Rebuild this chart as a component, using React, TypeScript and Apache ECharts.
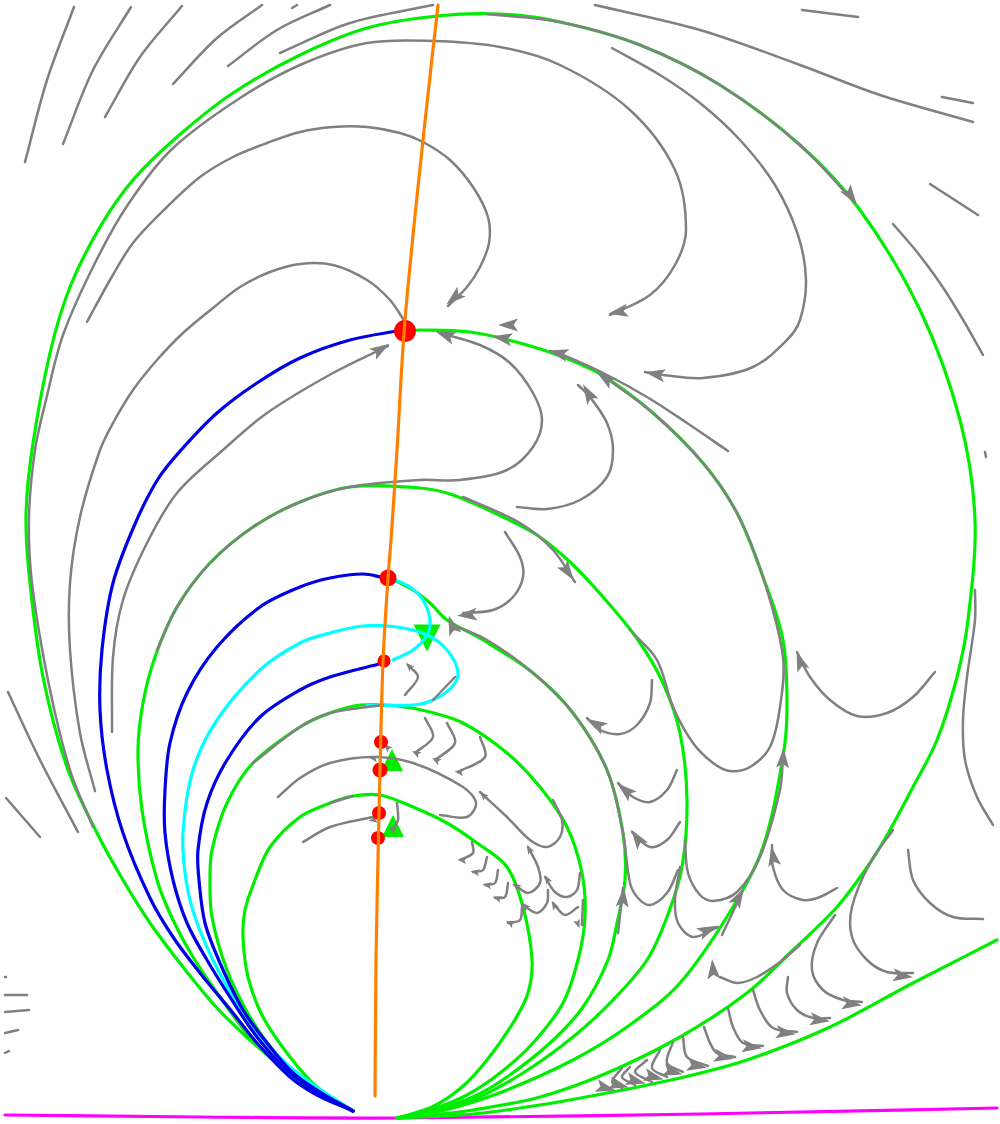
import React, { useEffect, useRef } from "react";
import * as echarts from "echarts";

type P = number[];
const orange: P[] = [[438,5],[423,140],[405,320],[397,450],[391,540],[388,578],[383,662],[380,770],[378,860],[376,960],[375,1096]];
const magenta: P[] = [[5,1115],[200,1117],[400,1118],[700,1114],[997,1108]];

const greenOuter: P[] = [[353,1111],[317,1093],[283,1068],[250,1040],[217,1008],[183,967],[150,923],[123,880],[97,833],[67,767],[43,677],[30,583],[26,517],[32,450],[50,353],[70,287],[100,227],[133,180],[177,137],[233,93],[300,55],[367,28],[437,16],[500,14],[560,22],[640,45],[720,85],[800,145],[860,210],[920,310],[960,420],[975,520],[968,620],[957,677],[937,740],[913,787],[890,830],[870,863],[837,907],[793,950],[747,993],[680,1037],[607,1073],[540,1097],[473,1110],[430,1115],[397,1118]];
const greenUpper: P[] = [[405,331],[420,330],[470,332],[520,343],[563,357],[602,375],[653,413],[703,463],[737,513],[763,577],[783,640],[787,707],[783,757],[763,847],[733,907],[680,983],[627,1027],[573,1060],[507,1090],[460,1106],[425,1114],[397,1118]];
const greenLobe: P[] = [[353,1111],[317,1093],[283,1068],[250,1037],[220,997],[193,957],[173,920],[157,880],[142,810],[138,750],[143,703],[155,657],[177,607],[210,563],[253,527],[300,502],[350,487],[420,488],[453,495],[503,517],[537,535],[570,562],[603,597],[638,640],[663,683],[680,733],[687,800],[682,867],[667,917],[647,960],[613,1000],[573,1037],[523,1073],[473,1100],[435,1111],[397,1118]];
const greenMiddle: P[] = [[390,578],[413,590],[430,603],[447,620],[483,640],[533,673],[573,713],[607,770],[623,833],[625,880],[617,923],[608,960],[583,1007],[550,1043],[507,1077],[473,1097],[435,1110],[397,1118]];
const greenInner: P[] = [[353,1111],[300,1077],[273,1050],[250,1017],[227,970],[212,917],[210,880],[212,850],[227,803],[253,763],[300,727],[330,713],[360,705],[397,706],[430,712],[463,723],[507,753],[540,787],[567,827],[582,873],[585,917],[578,960],[563,1003],[533,1043],[500,1073],[467,1095],[433,1109],[397,1118]];
const greenCore: P[] = [[353,1111],[317,1087],[290,1057],[263,1017],[248,977],[243,937],[245,910],[255,880],[270,847],[300,817],[330,803],[353,796],[380,795],[413,807],[447,823],[477,843],[507,867],[523,907],[532,960],[528,993],[513,1023],[487,1060],[462,1087],[432,1107],[397,1118]];
const greenBottom: P[] = [[397,1118],[473,1114],[540,1105],[607,1093],[680,1078],[747,1060],[830,1027],[913,983],[997,940]];
const green = [greenOuter, greenUpper, greenLobe, greenMiddle, greenInner, greenCore, greenBottom];

const cyan: P[][] = [
  [[390,578],[410,587],[423,600],[430,620],[427,635],[413,650],[393,660]],
  [[353,1111],[300,1075],[263,1040],[237,1003],[213,960],[195,917],[186,880],[183,833],[193,770],[217,720],[260,670],[300,643],[330,633],[363,626],[397,627],[427,635],[447,650],[458,672],[452,687],[433,700],[413,705],[367,705]],
];
const blue: P[][] = [
  [[403,330],[350,340],[300,358],[257,383],[217,413],[182,449],[158,479],[135,524],[113,583],[102,650],[100,710],[107,770],[123,833],[150,898],[173,937],[200,973],[233,1013],[257,1043],[290,1077],[317,1095],[353,1111]],
  [[385,578],[363,574],[330,578],[300,587],[260,607],[217,647],[187,693],[170,743],[165,790],[165,833],[173,880],[187,923],[207,960],[230,997],[257,1037],[287,1070],[317,1092],[353,1111]],
  [[383,663],[330,677],[300,690],[260,717],[227,760],[207,803],[198,850],[199,880],[205,923],[220,963],[243,1010],[267,1043],[293,1073],[320,1092],[353,1111]],
];
const grayShort: P[][] = [
  [[74,7],[47,80],[25,162]],[[131,7],[93,70],[63,144]],[[182,6],[140,57],[105,117]],[[262,5],[217,38],[173,84]],
  [[297,5],[292,8]],[[330,5],[277,30],[228,66]],[[433,5],[350,23],[280,53]],
  [[595,5],[700,30],[800,65],[880,95],[973,122]],[[802,10],[858,17]],[[942,97],[973,103]],[[930,184],[978,215]],
  [[893,224],[917,252],[940,283],[962,318],[983,355]],[[985,452],[986,457]],[[975,590],[975,620],[967,677],[963,720],[965,760],[977,797],[993,825]],
  [[8,692],[40,760],[78,832]],[[6,798],[40,837]],[[5,995],[27,995]],[[5,1012],[29,1010]],[[5,1033],[18,1030]],[[5,1053],[9,1051]],[[5,977],[6,977]],
];
const grayLong: P[][] = [
  [[95,791],[80,733],[70,650],[70,583],[80,517],[100,450],[113,423],[133,390],[157,360],[183,333],[213,308],[240,287],[270,272],[300,264],[333,265],[367,280],[390,300],[405,322]],
  [[87,322],[110,280],[133,243],[167,207],[200,177],[233,157],[267,143],[300,132],[333,127],[367,127],[400,133],[423,142],[450,160],[473,187],[488,217],[489,243],[480,267],[467,287],[448,306]],
  [[93,827],[70,770],[49,685],[32,583],[29,517],[35,450],[46,400],[63,335],[94,265],[127,206],[171,150],[237,100],[300,65],[367,43],[433,41],[500,47],[560,65],[630,110],[675,170],[686,230],[675,265],[650,295],[610,315]],
  [[487,14],[560,22],[640,45],[720,85],[800,145],[855,203]],
  [[612,48],[660,75],[700,103],[740,140],[775,185],[798,235],[806,280],[800,320],[787,340],[753,367],[703,378],[663,375],[645,372]],
  [[112,732],[113,657],[123,600],[147,543],[177,493],[223,450],[267,413],[333,373],[388,346]],
  [[728,451],[687,423],[647,397],[607,375],[563,355],[550,351]],
  [[157,650],[177,607],[210,563],[253,527],[300,502],[350,487],[420,480],[460,480],[507,470],[533,447],[542,420],[533,393],[510,363],[480,345],[440,333]],
  [[517,507],[547,509],[580,500],[607,477],[613,450],[607,423],[590,397],[578,385]],
  [[505,532],[520,557],[523,577],[513,597],[493,610],[463,613]],
  [[463,497],[520,523],[553,550],[575,582]],
  [[630,630],[657,660],[673,707],[693,743],[713,763],[730,771],[750,767],[770,747],[780,707],[783,657],[763,577],[737,513],[703,463],[653,413],[606,378]],
  [[450,624],[487,640],[533,673],[573,713],[607,770],[623,833],[630,883],[638,898],[650,905],[667,893],[678,870]],
  [[652,680],[650,703],[637,725],[620,734],[600,730],[587,718]],
  [[677,770],[667,790],[650,802],[633,797],[618,783]],
  [[680,822],[667,840],[650,847],[632,832]],
  [[685,840],[688,873],[700,895],[713,901],[737,892],[760,857],[780,790],[783,757]],
  [[680,867],[675,900],[678,923],[693,937],[718,927]],
  [[772,845],[773,867],[783,890],[803,900],[820,897],[837,888]],
  [[618,933],[623,888]],[[722,935],[740,897]],
  [[935,672],[913,697],[887,713],[857,716],[830,700],[810,677],[797,652]],
  [[908,850],[913,880],[930,903],[953,917],[983,919]],
  [[893,830],[870,863],[852,907],[852,937],[867,960],[887,972],[913,973]],
  [[835,915],[817,943],[812,970],[823,990],[843,1000],[862,1002]],
  [[788,977],[787,993],[797,1010],[813,1018],[830,1018]],
  [[753,990],[760,1010],[773,1028],[797,1032]],
  [[728,1008],[733,1027],[743,1043],[763,1046]],
  [[704,1027],[710,1043],[717,1053],[735,1057]],
  [[683,1037],[687,1057],[708,1066]],
  [[673,1042],[667,1063],[683,1072]],
  [[660,1050],[652,1068],[667,1077]],
  [[647,1060],[635,1072],[652,1082]],
  [[630,1067],[622,1077],[635,1085]],
  [[622,1068],[612,1082],[622,1088]],
  [[720,977],[737,983],[757,977],[780,962],[800,945]],
  [[480,792],[507,817],[530,840],[547,847],[560,837],[562,820],[553,800]],
  [[528,847],[538,867],[540,883],[528,893],[515,885]],
  [[545,877],[555,892],[567,897],[577,890],[580,873]],
  [[548,890],[547,903],[537,913],[523,905]],
  [[553,903],[565,915],[578,907]],
  [[583,900],[582,925]],
  [[472,842],[473,853],[460,860]],[[487,857],[483,870],[473,872]],[[498,870],[495,883],[485,885]],[[508,883],[505,897],[495,898]],[[522,907],[520,920],[508,923]],
  [[408,665],[418,677],[405,695]],[[425,718],[433,737],[415,753]],[[447,723],[455,743],[435,760]],[[480,737],[485,757],[458,772]],
  [[278,797],[300,778],[330,763],[373,757],[413,763],[463,787],[476,803],[467,817],[440,815]],
  [[303,842],[330,827],[373,817]],[[397,803],[398,820],[393,830]],
  [[455,677],[433,700]],[[253,763],[300,727],[330,713],[383,705]],[[330,803],[353,796]],
];
// [x, y, rotation]
const arrowsLarge: P[] = [
  [454,298,130],[618,312,100],[655,374,80],[851,196,215],[508,325,90],[502,338,80],[445,335,70],[558,353,75],[605,378,55],[381,349,-58],[588,393,30],[568,572,215],[467,615,95],[452,625,20],[596,724,60],[625,790,50],[637,838,35],[800,661,20],[783,758,-3],[623,897,-5],[739,897,-30],[708,930,-65],[713,969,5],[773,856,10],[903,976,-97],[852,1004,-97],[820,1020,-97],[786,1033,-97],[752,1047,-97],[724,1057,-100],[697,1066,-100],[673,1072,-105],[654,1077,-105],[636,1081,-105],[619,1085,-105],[606,1088,-105],
];
const arrowsSmall: P[] = [
  [409,666,45],[416,753,60],[436,760,60],[459,772,80],[483,795,45],[529,849,30],[547,879,30],[525,906,45],[554,905,30],[516,886,60],[462,860,80],[475,872,80],[487,885,80],[497,898,70],[510,923,60],[578,924,200],[387,747,45],[373,758,80],[373,820,100],[393,830,200],
];
const redPoints: P[] = [[405,331],[388,578],[384,661],[381,742],[380,770],[379,813],[378,838]];
const redSizes = [22, 17, 13, 14, 15, 14, 14];
const triangles: P[] = [[427,638],[392,760],[393,826]];
const triangleSizes = [27, 22, 22];
const triangleTurns = [180, 0, 0];
const ARROW = "path://M5,0L10,14L5,11L0,14Z";

// Spline through the read points, placed with the chart's own scales.
function splinePath(pts: P[]) {
  const d: number[] = [];
  for (let i = 0; i + 1 < pts.length; i++) d.push(Math.hypot(pts[i + 1][0] - pts[i][0], pts[i + 1][1] - pts[i][1]) || 1);
  const tan = pts.map((p, i) => {
    if (i === 0) return [(pts[1][0] - p[0]) / d[0], (pts[1][1] - p[1]) / d[0]];
    if (i === pts.length - 1) return [(p[0] - pts[i - 1][0]) / d[i - 1], (p[1] - pts[i - 1][1]) / d[i - 1]];
    const s = d[i - 1] + d[i];
    return [(pts[i + 1][0] - pts[i - 1][0]) / s, (pts[i + 1][1] - pts[i - 1][1]) / s];
  });
  let out = `M${pts[0][0]} ${pts[0][1]}`;
  for (let i = 0; i + 1 < pts.length; i++) {
    const k = d[i] / 3;
    out += `C${pts[i][0] + tan[i][0] * k} ${pts[i][1] + tan[i][1] * k} ${pts[i + 1][0] - tan[i + 1][0] * k} ${pts[i + 1][1] - tan[i + 1][1] * k} ${pts[i + 1][0]} ${pts[i + 1][1]}`;
  }
  return out;
}

function lines(data: P[][], color: string, width: number, z: number) {
  return data.map((curve) => ({
    type: "custom", data: curve, z, silent: true, clip: false,
    encode: { x: 0, y: 1 },
    renderItem: (params: any, api: any) => {
      if (params.dataIndex !== 0) return null;
      const pts = curve.map((p) => api.coord(p));
      return {
        type: "path",
        shape: { pathData: splinePath(pts) },
        style: { fill: "none", stroke: color, lineWidth: width, lineCap: "round", lineJoin: "round" },
      };
    },
  }));
}

export default function App() {
  const ref = useRef<HTMLDivElement>(null);
  useEffect(() => {
    const chart = echarts.init(ref.current!, undefined, { renderer: "svg" });
    chart.setOption({
      animation: false,
      backgroundColor: "#ffffff",
      grid: { left: 0, right: 0, top: 0, bottom: 0 },
      xAxis: { type: "value", min: 0, max: 1000, show: false },
      yAxis: { type: "value", min: 0, max: 1124, inverse: true, show: false },
      series: [
        ...lines([magenta], "#ff00ff", 3.2, 1),
        { type: "scatter", data: triangles, z: 2, silent: true, symbol: "triangle",
          symbolSize: (_: P, p: any) => [triangleSizes[p.dataIndex], triangleSizes[p.dataIndex]],
          symbolRotate: (_: P, p: any) => triangleTurns[p.dataIndex], itemStyle: { color: "#00ee00", opacity: 1 } },
        ...lines(green, "#00ee00", 3.2, 3),
        ...lines(cyan, "#00ffff", 3.2, 4),
        ...lines(blue, "#0000e6", 3.2, 5),
        ...lines(grayShort, "#808080", 2.5, 6),
        ...lines(grayLong, "#808080", 2.5, 6),
        { type: "scatter", data: arrowsLarge, z: 7, silent: true, symbol: ARROW, symbolSize: [13, 20],
          symbolRotate: (v: P) => v[2], itemStyle: { color: "#808080", opacity: 1 } },
        { type: "scatter", data: arrowsSmall, z: 7, silent: true, symbol: ARROW, symbolSize: [7, 9],
          symbolRotate: (v: P) => v[2], itemStyle: { color: "#808080", opacity: 1 } },
        { type: "scatter", data: redPoints, z: 8, silent: true, symbol: "circle",
          symbolSize: (_: P, p: any) => redSizes[p.dataIndex], itemStyle: { color: "#ff0000", opacity: 1 } },
        ...lines([orange], "#ff8000", 3.2, 9),
      ],
    });
    return () => chart.dispose();
  }, []);
  return <div ref={ref} style={{ position: "absolute", left: 0, top: 0, width: 1000, height: 1124 }} />;
}
